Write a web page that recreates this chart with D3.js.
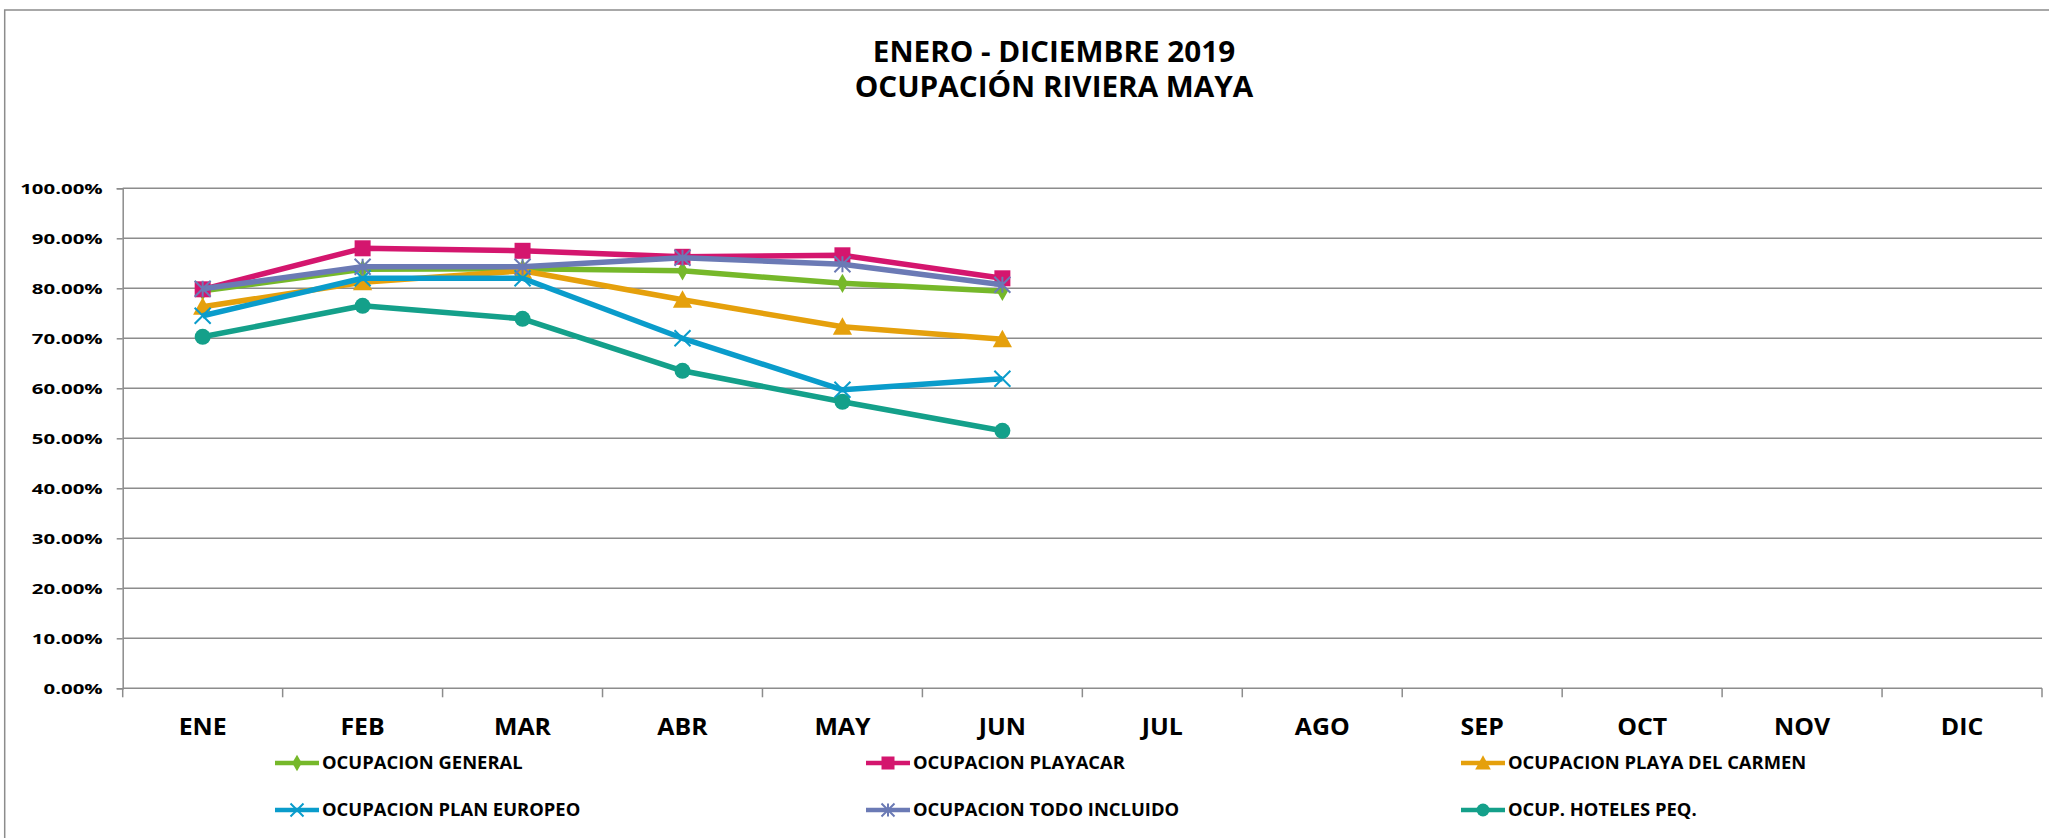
<!DOCTYPE html>
<html>
<head>
<meta charset="utf-8">
<script src="https://cdn.jsdelivr.net/npm/d3@7"></script>
<style>
	body { margin: 0; background: #fff; }
	text { font-family: "Open Sans", sans-serif; font-weight: bold; fill: #000; }
</style>
</head>
<body>
<svg id="svg1" width="2049" height="838"></svg>
<script>
// months on the x axis
var months = ["ENE", "FEB", "MAR", "ABR", "MAY", "JUN", "JUL", "AGO", "SEP", "OCT", "NOV", "DIC"];
var yTicks = [0, 0.1, 0.2, 0.3, 0.4, 0.5, 0.6, 0.7, 0.8, 0.9, 1.0];

// series values (only Jan - Jun reported)
var general      = [0.795, 0.838, 0.839, 0.835, 0.810, 0.794];
var playacar     = [0.798, 0.880, 0.875, 0.863, 0.866, 0.820];
var playaCarmen  = [0.763, 0.812, 0.835, 0.777, 0.723, 0.698];
var planEuropeo  = [0.745, 0.820, 0.820, 0.700, 0.597, 0.619];
var todoIncluido = [0.799, 0.843, 0.843, 0.861, 0.848, 0.807];
var hotelesPeq   = [0.703, 0.765, 0.739, 0.635, 0.573, 0.515];

var seriesNames = ["OCUPACION GENERAL", "OCUPACION PLAYACAR", "OCUPACION PLAYA DEL CARMEN",
	"OCUPACION PLAN EUROPEO", "OCUPACION TODO INCLUIDO", "OCUP. HOTELES PEQ."];
var seriesValues = [general, playacar, playaCarmen, planEuropeo, todoIncluido, hotelesPeq];
var seriesColors = ["#76B82A", "#D4166E", "#E5A00C", "#0A9CCB", "#6B7AB5", "#14A08A"];
var seriesMarkers = ["diamond", "square", "triangle", "x", "star", "circle"];

var svg1 = d3.select("#svg1"),
	plot = {left: 122.7, right: 2042, top: 188.3, bottom: 688.3};

// outer chart border (only left and top are visible)
svg1.append("rect")
	.attr("x", 4.7).attr("y", 10)
	.attr("width", 2100).attr("height", 900)
	.attr("fill", "none")
	.attr("stroke", "#8c8c8c")
	.attr("stroke-width", 1.5);

var x = d3.scaleBand()
	.domain(months)
	.range([plot.left, plot.right]);

var y = d3.scaleLinear()
	.domain([0, 1])
	.range([plot.bottom, plot.top]);

// the original picture is stretched sideways, so widen the text to match
function stretch(sel, k) {
	sel.each(function() {
		var w = this.getComputedTextLength();
		d3.select(this).attr("textLength", w * k).attr("lengthAdjust", "spacingAndGlyphs");
	});
}

// title
var title = svg1.append("g").attr("text-anchor", "middle");
title.append("text")
	.attr("x", 1054).attr("y", 62)
	.attr("font-size", 28)
	.text("ENERO - DICIEMBRE 2019")
	.call(stretch, 1.06);
title.append("text")
	.attr("x", 1054).attr("y", 97)
	.attr("font-size", 28)
	.text("OCUPACIÓN RIVIERA MAYA")
	.call(stretch, 1.06);

// gridlines
svg1.append("g")
	.selectAll("line")
	.data(yTicks.slice(1))
	.enter().append("line")
	.attr("x1", plot.left).attr("x2", plot.right)
	.attr("y1", function(d) { return y(d); })
	.attr("y2", function(d) { return y(d); })
	.attr("stroke", "#8c8c8c")
	.attr("stroke-width", 1.5);

// y axis
var yAxis = svg1.append("g")
	.attr("transform", "translate(" + plot.left + ",0)")
	.call(d3.axisLeft(y).tickValues(yTicks).tickSize(6).tickPadding(14).tickFormat(d3.format(".2%")));
yAxis.selectAll("line, path").attr("stroke", "#8c8c8c").attr("stroke-width", 1.5);
yAxis.selectAll("text")
	.attr("font-family", null)
	.attr("font-size", 15)
	.attr("dy", "0.36em")
	.call(stretch, 1.36);

// x axis with ticks between categories
var xAxis = svg1.append("g")
	.attr("transform", "translate(0," + plot.bottom + ")");
xAxis.append("line")
	.attr("x1", plot.left).attr("x2", plot.right)
	.attr("stroke", "#8c8c8c").attr("stroke-width", 1.5);
xAxis.selectAll(".tk")
	.data(months.concat(["end"]))
	.enter().append("line")
	.attr("class", "tk")
	.attr("x1", function(d, i) { return plot.left + i * x.step(); })
	.attr("x2", function(d, i) { return plot.left + i * x.step(); })
	.attr("y1", 0).attr("y2", 9)
	.attr("stroke", "#8c8c8c").attr("stroke-width", 1.5);
xAxis.selectAll(".lbl")
	.data(months)
	.enter().append("text")
	.attr("class", "lbl")
	.attr("x", function(d) { return x(d) + x.bandwidth() / 2; })
	.attr("y", 47)
	.attr("text-anchor", "middle")
	.attr("font-size", 23)
	.text(function(d) { return d; })
	.call(stretch, 1.08);

// marker drawing
function drawMarker(g, type, color, s) {
	if (type == "diamond") {
		g.append("path").attr("d", d3.symbol(d3.symbolDiamond, s * s * 0.55)()).attr("fill", color);
	} else if (type == "square") {
		g.append("rect").attr("x", -s / 2).attr("y", -s / 2).attr("width", s).attr("height", s).attr("fill", color);
	} else if (type == "triangle") {
		g.append("path").attr("d", "M0," + (-s * 0.6) + "L" + (s * 0.6) + "," + (s * 0.5) + "L" + (-s * 0.6) + "," + (s * 0.5) + "Z").attr("fill", color);
	} else if (type == "circle") {
		g.append("circle").attr("r", s / 2).attr("fill", color);
	} else if (type == "x" || type == "star") {
		var h = s / 2;
		g.append("path")
			.attr("d", "M" + (-h) + "," + (-h) + "L" + h + "," + h + "M" + (-h) + "," + h + "L" + h + "," + (-h) +
				(type == "star" ? "M0," + (-h) + "L0," + h : ""))
			.attr("stroke", color).attr("stroke-width", 2).attr("fill", "none");
	}
}

var line = d3.line()
	.x(function(d, i) { return x(months[i]) + x.bandwidth() / 2; })
	.y(function(d) { return y(d); });

seriesValues.forEach(function(vals, k) {
	var g = svg1.append("g");
	g.append("path")
		.datum(vals)
		.attr("d", line)
		.attr("fill", "none")
		.attr("stroke", seriesColors[k])
		.attr("stroke-width", 5.5)
		.attr("stroke-linejoin", "round");
	vals.forEach(function(v, i) {
		var m = g.append("g")
			.attr("transform", "translate(" + (x(months[i]) + x.bandwidth() / 2) + "," + y(v) + ")");
		drawMarker(m, seriesMarkers[k], seriesColors[k], seriesMarkers[k] == "diamond" ? 14 : 16);
	});
});

// legend
var legendCols = [275, 866, 1461],
	legendRows = [763, 810];

var legend = svg1.append("g")
	.selectAll("g")
	.data(seriesNames)
	.enter().append("g")
	.attr("transform", function(d, i) { return "translate(" + legendCols[i % 3] + "," + legendRows[Math.floor(i / 3)] + ")"; });

legend.append("line")
	.attr("x1", 0).attr("x2", 44)
	.attr("stroke", function(d, i) { return seriesColors[i]; })
	.attr("stroke-width", 4.5);

legend.each(function(d, i) {
	var m = d3.select(this).append("g").attr("transform", "translate(22,0)");
	drawMarker(m, seriesMarkers[i], seriesColors[i], seriesMarkers[i] == "diamond" ? 12 : 13);
});

legend.append("text")
	.attr("x", 47)
	.attr("y", 0)
	.attr("dy", "0.36em")
	.attr("font-size", 17.5)
	.text(function(d) { return d; })
	.call(stretch, 1.05);
</script>
</body>
</html>
